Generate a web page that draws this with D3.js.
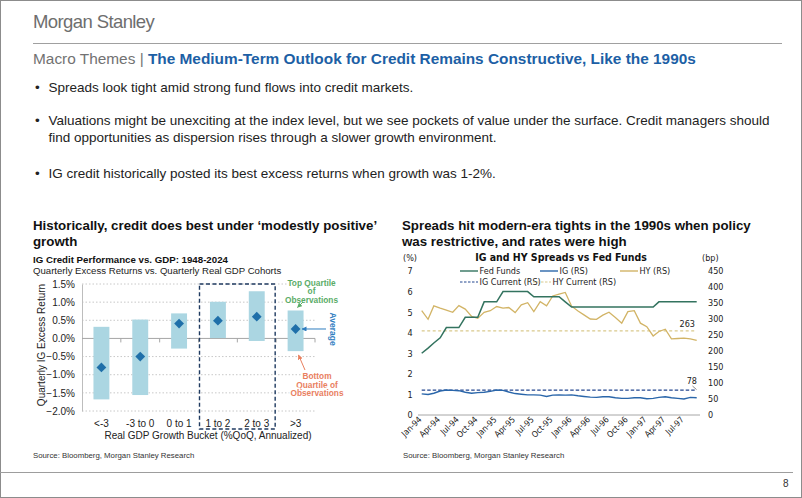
<!DOCTYPE html>
<html><head><meta charset="utf-8">
<script src="https://cdn.jsdelivr.net/npm/d3@7"></script>
<style>
html,body{margin:0;padding:0;background:#fff;}
svg{display:block;}
</style></head><body>
<svg id="s" width="802" height="498"></svg>
<script>
// ---------- DATA ----------
const gdpBuckets = ["<-3", "-3 to 0", "0 to 1", "1 to 2", "2 to 3", ">3"];
const topQuartile = [0.32, 0.52, 0.69, 1.01, 1.30, 0.77];
const bottomQuartile = [-1.68, -1.56, -0.28, 0.01, -0.07, -0.35];
const averageReturn = [-0.80, -0.50, 0.41, 0.49, 0.60, 0.26];
const returnTicks = [1.5, 1.0, 0.5, 0.0, -0.5, -1.0, -1.5, -2.0];

const fedFunds = [3.0, 3.25, 3.5, 3.75, 4.25, 4.25, 4.25, 4.75, 4.75, 4.75, 5.5, 5.5,
  5.5, 6.0, 6.0, 6.0, 6.0, 6.0, 5.75, 5.75, 5.75, 5.75, 5.75, 5.5,
  5.25, 5.25, 5.25, 5.25, 5.25, 5.25, 5.25, 5.25, 5.25, 5.25, 5.25, 5.25,
  5.25, 5.25, 5.5, 5.5, 5.5, 5.5, 5.5, 5.5, 5.5];
const igSpread = [66, 64, 68, 75, 78, 77, 76, 71, 68, 70, 71, 74,
  78, 77, 72, 67, 65, 63, 63, 62, 58, 62, 63, 62,
  63, 60, 58, 56, 55, 57, 57, 54, 52, 52, 54, 54,
  51, 52, 55, 57, 54, 52, 50, 55, 54];
const hySpread = [326, 299, 341, 334, 328, 321, 342, 331, 308, 302, 321, 326,
  339, 334, 336, 320, 344, 351, 323, 354, 341, 372, 378, 383,
  340, 325, 313, 300, 299, 312, 321, 305, 287, 323, 326, 287,
  276, 247, 261, 268, 238, 239, 240, 238, 233];
const igCurrent = 78;
const hyCurrent = 263;
const pctTicks = [0, 1, 2, 3, 4, 5, 6, 7];
const bpTicks = [0, 50, 100, 150, 200, 250, 300, 350, 400, 450];
const startMonth = new Date(1994, 0, 1);

// ---------- STYLE ----------
const SANS = "'Liberation Sans', Arial, sans-serif";
const NARROW = "'Liberation Sans Narrow', 'DejaVu Sans Condensed', 'Roboto Condensed', 'Liberation Sans', sans-serif";

const svg = d3.select("#s");
svg.append("rect").attr("x", 0.5).attr("y", 0.5).attr("width", 801).attr("height", 497)
  .attr("fill", "#fff").attr("stroke", "#8c8c8c");

// header
svg.append("text").attr("x", 33).attr("y", 27.5).attr("font-family", SANS).attr("font-size", 18.5)
  .attr("letter-spacing", -0.6).attr("fill", "#6e6e6e").text("Morgan Stanley");
svg.append("line").attr("x1", 33).attr("x2", 782).attr("y1", 43.5).attr("y2", 43.5)
  .attr("stroke", "#a0a0a0");
const ttl = svg.append("text").attr("x", 33).attr("y", 63.5).attr("font-family", SANS).attr("font-size", 15.4);
ttl.append("tspan").attr("fill", "#727272").text("Macro Themes | ");
ttl.append("tspan").attr("fill", "#1d5fa5").attr("font-weight", "bold")
  .text("The Medium-Term Outlook for Credit Remains Constructive, Like the 1990s");

// bullets
const bullets = [
  [91.5, "Spreads look tight amid strong fund flows into credit markets.", true],
  [125, "Valuations might be unexciting at the index level, but we see pockets of value under the surface. Credit managers should", true],
  [141.5, "find opportunities as dispersion rises through a slower growth environment.", false],
  [177.5, "IG credit historically posted its best excess returns when growth was 1-2%.", true]
];
bullets.forEach(([y, t, b]) => {
  if (b) svg.append("text").attr("x", 35).attr("y", y).attr("font-family", SANS).attr("font-size", 13.5)
    .attr("fill", "#222").text("•");
  svg.append("text").attr("x", 48.5).attr("y", y).attr("font-family", SANS).attr("font-size", 13.5)
    .attr("fill", "#222").text(t);
});

// section headings
function heading(x, lines) {
  lines.forEach((t, i) => svg.append("text").attr("x", x).attr("y", 230 + i * 15.5)
    .attr("font-family", SANS).attr("font-size", 13.3).attr("font-weight", "bold").attr("fill", "#111").text(t));
}
heading(33, ["Historically, credit does best under \u2018modestly positive\u2019", "growth"]);
heading(402, ["Spreads hit modern-era tights in the 1990s when policy", "was restrictive, and rates were high"]);

// ---------- LEFT CHART ----------
const L = svg.append("g");
L.append("text").attr("x", 33).attr("y", 262.5).attr("font-family", SANS).attr("font-size", 9.7)
  .attr("font-weight", "bold").attr("fill", "#111").text("IG Credit Performance vs. GDP: 1948-2024");
L.append("text").attr("x", 33).attr("y", 273.5).attr("font-family", SANS).attr("font-size", 9.6)
  .attr("fill", "#222").text("Quarterly Excess Returns vs. Quarterly Real GDP Cohorts");

const xb = d3.scaleBand().domain(gdpBuckets).range([82, 315]).padding(0);
const yr = d3.scaleLinear().domain([-2.0, 1.5]).range([411, 284]);

// grid
L.selectAll(".grid").data(returnTicks.filter(d => d !== 0)).join("line")
  .attr("x1", 82).attr("x2", 315).attr("y1", d => yr(d)).attr("y2", d => yr(d))
  .attr("stroke", "#c8c8c8").attr("stroke-dasharray", "1.5,2");

// y axis
const yAxis = L.append("g").attr("transform", "translate(82,0)")
  .call(d3.axisLeft(yr).tickValues(returnTicks).tickSize(0).tickPadding(7)
    .tickFormat(d => d3.format(".1f")(d) + "%"));
yAxis.select(".domain").attr("stroke", "#bdbdbd");
yAxis.selectAll("text").attr("font-family", SANS).attr("font-size", 10).attr("fill", "#222");

// zero line + category ticks
L.append("line").attr("x1", 82).attr("x2", 315).attr("y1", yr(0)).attr("y2", yr(0)).attr("stroke", "#a6a6a6");
L.selectAll(".ctick").data(gdpBuckets).join("line")
  .attr("x1", d => xb(d) + xb.bandwidth()).attr("x2", d => xb(d) + xb.bandwidth())
  .attr("y1", yr(0)).attr("y2", yr(0) + 4).attr("stroke", "#a6a6a6");

// bars
const bw = xb.bandwidth() * 0.41;
L.selectAll(".bar").data(gdpBuckets).join("rect")
  .attr("x", d => xb(d) + xb.bandwidth() / 2 - bw / 2)
  .attr("width", bw)
  .attr("y", (d, i) => yr(topQuartile[i]))
  .attr("height", (d, i) => yr(bottomQuartile[i]) - yr(topQuartile[i]))
  .attr("fill", "#abd6e2");
// diamonds
L.selectAll(".dia").data(gdpBuckets).join("path")
  .attr("d", d3.symbol(d3.symbolSquare, 48))
  .attr("transform", (d, i) => `translate(${xb(d) + xb.bandwidth() / 2},${yr(averageReturn[i])}) rotate(45)`)
  .attr("fill", "#1f6fa9");

// x labels
L.selectAll(".xl").data(gdpBuckets).join("text")
  .attr("x", d => xb(d) + xb.bandwidth() / 2).attr("y", 426.5).attr("text-anchor", "middle")
  .attr("font-family", SANS).attr("font-size", 10).attr("fill", "#222").text(d => d);
L.append("text").attr("x", 208).attr("y", 438.5).attr("text-anchor", "middle")
  .attr("font-family", SANS).attr("font-size", 10).attr("fill", "#222")
  .text("Real GDP Growth Bucket (%QoQ, Annualized)");
L.append("text").attr("transform", "translate(45,345) rotate(-90)").attr("text-anchor", "middle")
  .attr("font-family", SANS).attr("font-size", 10).attr("fill", "#222").text("Quarterly IG Excess Return");

// highlight box
L.append("rect").attr("x", xb("1 to 2") + 1).attr("y", 284)
  .attr("width", xb.bandwidth() * 2 - 2).attr("height", 145)
  .attr("fill", "none").attr("stroke", "#1f3a60").attr("stroke-width", 1.4).attr("stroke-dasharray", "4,2.5");

// annotations
const defs = svg.append("defs");
function marker(id, color) {
  defs.append("marker").attr("id", id).attr("viewBox", "0 0 10 10").attr("refX", 9).attr("refY", 5)
    .attr("markerWidth", 5).attr("markerHeight", 5).attr("orient", "auto")
    .append("path").attr("d", "M0,0L10,5L0,10z").attr("fill", color);
}
marker("ag", "#5aac67"); marker("ab", "#2f7dbf"); marker("ar", "#e9805f");
function annText(lines, x, y0, dy, color) {
  lines.forEach((t, i) => L.append("text").attr("x", x).attr("y", y0 + i * dy).attr("text-anchor", "middle")
    .attr("font-family", SANS).attr("font-size", 8.3).attr("font-weight", "bold").attr("fill", color)
    .attr("stroke", "#fff").attr("stroke-width", 3).attr("paint-order", "stroke").text(t));
}
annText(["Top Quartile", "of", "Observations"], 311.5, 285.5, 8.5, "#5aac67");
L.append("line").attr("x1", 303).attr("y1", 302).attr("x2", 297.5).attr("y2", 307.5)
  .attr("stroke", "#5aac67").attr("stroke-width", 1).attr("marker-end", "url(#ag)");
annText(["Bottom", "Quartile of", "Observations"], 317, 379, 8.6, "#e9805f");
L.append("line").attr("x1", 305).attr("y1", 370).attr("x2", 298.5).attr("y2", 355)
  .attr("stroke", "#e9805f").attr("stroke-width", 1).attr("marker-end", "url(#ar)");
L.append("line").attr("x1", 326).attr("y1", yr(averageReturn[5])).attr("x2", 302).attr("y2", yr(averageReturn[5]))
  .attr("stroke", "#2f7dbf").attr("stroke-width", 1).attr("marker-end", "url(#ab)");
L.append("text").attr("transform", `translate(329.5,${yr(averageReturn[5])}) rotate(90)`).attr("text-anchor", "middle")
  .attr("font-family", SANS).attr("font-size", 8.5).attr("font-weight", "bold").attr("fill", "#2f7dbf").text("Average");

L.append("text").attr("x", 33).attr("y", 458).attr("font-family", SANS).attr("font-size", 7.8)
  .attr("fill", "#333").text("Source: Bloomberg, Morgan Stanley Research");

// ---------- RIGHT CHART ----------
const R = svg.append("g");
const months = d3.timeMonth.range(startMonth, d3.timeMonth.offset(startMonth, fedFunds.length));
const xt = d3.scaleTime().domain([months[0], months[months.length - 1]]).range([421.7, 696.7]);
const yL = d3.scaleLinear().domain([0, 7]).range([415, 271]);
const yR = d3.scaleLinear().domain([0, 450]).range([415, 271]);

R.append("text").attr("x", 561).attr("y", 261).attr("text-anchor", "middle").attr("font-family", NARROW)
  .attr("font-size", 10.5).attr("font-weight", "bold").attr("fill", "#111").text("IG and HY Spreads vs Fed Funds");
R.append("text").attr("x", 403).attr("y", 261).attr("font-family", NARROW).attr("font-size", 9).attr("fill", "#222").text("(%)");
R.append("text").attr("x", 702).attr("y", 261).attr("font-family", NARROW).attr("font-size", 9).attr("fill", "#222").text("(bp)");

const la = R.append("g").attr("transform", "translate(413,0)")
  .call(d3.axisLeft(yL).tickValues(pctTicks).tickSize(0).tickPadding(5).tickFormat(d3.format("d")));
la.select(".domain").remove();
la.selectAll("text").attr("font-family", NARROW).attr("font-size", 9).attr("fill", "#222").attr("text-anchor", "middle").attr("dx", "2");
const ra = R.append("g").attr("transform", "translate(704,0)")
  .call(d3.axisRight(yR).tickValues(bpTicks).tickSize(0).tickPadding(4).tickFormat(d3.format("d")));
ra.select(".domain").remove();
ra.selectAll("text").attr("font-family", NARROW).attr("font-size", 9).attr("fill", "#222");

const xa = R.append("g").attr("transform", "translate(0,415)")
  .call(d3.axisBottom(xt).ticks(d3.timeMonth.every(3)).tickSize(0).tickPadding(0)
    .tickFormat(d3.timeFormat("%b-%y")));
xa.select(".domain").attr("d", "M418,0H700").attr("stroke", "#a6a6a6");
xa.selectAll("text").attr("font-family", NARROW).attr("font-size", 8.5).attr("fill", "#222")
  .attr("text-anchor", "end").attr("dy", 0).attr("transform", "translate(0,5) rotate(-45)");

// current lines
R.append("line").attr("x1", xt(months[0])).attr("x2", xt(months[months.length - 1]))
  .attr("y1", yR(hyCurrent)).attr("y2", yR(hyCurrent)).attr("stroke", "#d9c98c").attr("stroke-width", 1.3).attr("stroke-dasharray", "3,2.5");
R.append("line").attr("x1", xt(months[0])).attr("x2", xt(months[months.length - 1]))
  .attr("y1", yR(igCurrent)).attr("y2", yR(igCurrent)).attr("stroke", "#23468f").attr("stroke-width", 1.2).attr("stroke-dasharray", "3.5,2");

const line = (arr, ys) => d3.line().x((d, i) => xt(months[i])).y(d => ys(d))(arr);
R.append("path").attr("d", line(hySpread, yR)).attr("fill", "none").attr("stroke", "#d2b466").attr("stroke-width", 1.3);
R.append("path").attr("d", line(fedFunds, yL)).attr("fill", "none").attr("stroke", "#33735f").attr("stroke-width", 1.5);
R.append("path").attr("d", line(igSpread, yR)).attr("fill", "none").attr("stroke", "#2a66aa").attr("stroke-width", 1.4);

R.append("text").attr("x", 695).attr("y", yR(hyCurrent) - 4).attr("text-anchor", "end").attr("font-family", NARROW)
  .attr("font-size", 9).attr("fill", "#222").text(hyCurrent);
R.append("text").attr("x", 697).attr("y", yR(igCurrent) - 6).attr("text-anchor", "end").attr("font-family", NARROW)
  .attr("font-size", 9).attr("fill", "#222").text(igCurrent);
R.append("line").attr("x1", 692.5).attr("y1", yR(igCurrent) - 4).attr("x2", 696.5).attr("y2", yR(igCurrent) - 0.5)
  .attr("stroke", "#555").attr("stroke-width", 0.7);

// legend
const legend = [
  {x: 460, y: 271, label: "Fed Funds", color: "#33735f", dash: null},
  {x: 540, y: 271, label: "IG (RS)", color: "#2a66aa", dash: null},
  {x: 620, y: 271, label: "HY (RS)", color: "#d2b466", dash: null},
  {x: 460, y: 282, label: "IG Current (RS)", color: "#23468f", dash: "2.5,1.5"},
  {x: 533, y: 282, label: "HY Current (RS)", color: "#d9c98c", dash: "2.5,1.5"}
];
legend.forEach(d => {
  R.append("line").attr("x1", d.x).attr("x2", d.x + 18).attr("y1", d.y).attr("y2", d.y)
    .attr("stroke", d.color).attr("stroke-width", d.dash ? 1 : 1.4).attr("stroke-dasharray", d.dash);
  R.append("text").attr("x", d.x + 19.5).attr("y", d.y + 3).attr("font-family", NARROW).attr("font-size", 9)
    .attr("fill", "#222").text(d.label);
});

R.append("text").attr("x", 403).attr("y", 458).attr("font-family", SANS).attr("font-size", 7.8)
  .attr("fill", "#333").text("Source: Bloomberg, Morgan Stanley Research");

// footer
svg.append("line").attr("x1", 0).attr("x2", 793).attr("y1", 472.5).attr("y2", 472.5).attr("stroke", "#9d9d9d");
svg.append("text").attr("x", 783).attr("y", 486.5).attr("font-family", SANS).attr("font-size", 10)
  .attr("fill", "#333").text("8");
</script>
</body></html>
